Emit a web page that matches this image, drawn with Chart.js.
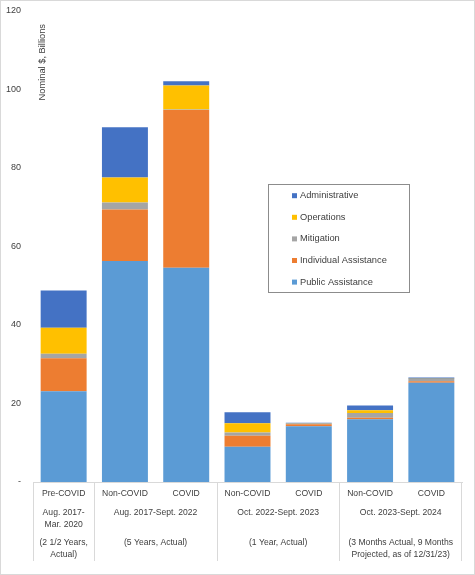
<!DOCTYPE html>
<html>
<head>
<meta charset="utf-8">
<script src="https://cdn.jsdelivr.net/npm/chart.js@4"></script>
<style>
  html, body { margin: 0; padding: 0; background: #fff; }
  #wrap { position: relative; width: 475px; height: 575px; }
</style>
</head>
<body>
<div id="wrap"><canvas id="chart"></canvas></div>
<script>
// ---- data ----
var categories = ['Pre-COVID', 'Non-COVID', 'COVID', 'Non-COVID', 'COVID', 'Non-COVID', 'COVID'];
var groupSpans = [[0, 0], [1, 2], [3, 4], [5, 6]];
var groupLabels = [['Aug. 2017-', 'Mar. 2020'], ['Aug. 2017-Sept. 2022'], ['Oct. 2022-Sept. 2023'], ['Oct. 2023-Sept. 2024']];
var groupNotes = [['(2 1/2 Years,', 'Actual)'], ['(5 Years, Actual)'], ['(1 Year, Actual)'], ['(3 Months Actual, 9 Months', 'Projected, as of 12/31/23)']];

var publicAssistance = [23.1, 56.3, 54.6, 9.0, 14.2, 16.0, 25.3];
var individualAssistance = [8.4, 13.1, 40.2, 2.8, 0.5, 0.4, 0.35];
var mitigation = [1.2, 1.8, 0.1, 0.8, 0.15, 1.2, 0.6];
var operations = [6.6, 6.4, 6.1, 2.4, 0.05, 0.7, 0.05];
var administrative = [9.5, 12.8, 1.1, 2.8, 0.2, 1.2, 0.3];

var yTicks = [0, 20, 40, 60, 80, 100, 120];
var yTitle = 'Nominal $, Billions';

var FONT = '"Liberation Sans", Arial, sans-serif';
var TXT = '#404040';

function ds(label, data, color) {
  return { label: label, data: data, backgroundColor: color, borderWidth: 0, categoryPercentage: 1, barPercentage: 0.75 };
}

// 边框 + y 轴标题 + 分组标签 + 图例
var decor = {
  id: 'decor',
  afterDraw: function(chart) {
    var ctx = chart.ctx, x = chart.scales.x, area = chart.chartArea;
    ctx.save();
    // outer border
    ctx.strokeStyle = '#d9d9d9'; ctx.lineWidth = 1;
    ctx.strokeRect(0.5, 0.5, chart.width - 1, chart.height - 1);

    // y title
    ctx.fillStyle = TXT;
    ctx.font = '9.3px ' + FONT;
    ctx.save();
    ctx.translate(area.left + 9, 24);
    ctx.rotate(-Math.PI / 2);
    ctx.textAlign = 'right'; ctx.textBaseline = 'middle';
    ctx.fillText(yTitle, 0, 0);
    ctx.restore();

    // multi-level category axis
    var half = (x.getPixelForValue(1) - x.getPixelForValue(0)) / 2;
    ctx.strokeStyle = '#d9d9d9';
    ctx.beginPath();
    groupSpans.forEach(function(s, i) {
      var l = Math.round(x.getPixelForValue(s[0]) - half) + 0.5;
      ctx.moveTo(l, area.bottom); ctx.lineTo(l, area.bottom + 79);
      if (i === groupSpans.length - 1) {
        var r = Math.round(x.getPixelForValue(s[1]) + half) - 0.5;
        ctx.moveTo(r, area.bottom); ctx.lineTo(r, area.bottom + 79);
      }
    });
    ctx.stroke();

    ctx.font = '8.6px ' + FONT;
    ctx.textAlign = 'center'; ctx.textBaseline = 'middle';
    categories.forEach(function(c, i) { ctx.fillText(c, x.getPixelForValue(i), area.bottom + 12); });
    groupSpans.forEach(function(s, i) {
      var cx = (x.getPixelForValue(s[0]) + x.getPixelForValue(s[1])) / 2;
      groupLabels[i].forEach(function(t, j) { ctx.fillText(t, cx, area.bottom + 31 + j * 12); });
      groupNotes[i].forEach(function(t, j) { ctx.fillText(t, cx, area.bottom + 61 + j * 12); });
    });

    // legend box
    var lx = 268.5, ly = 184.5, lw = 141, lh = 108;
    ctx.fillStyle = '#fff';
    ctx.fillRect(lx, ly, lw, lh);
    ctx.strokeStyle = '#8c8c8c';
    ctx.strokeRect(lx, ly, lw, lh);
    ctx.font = '9.3px ' + FONT;
    ctx.textAlign = 'left';
    var items = chart.data.datasets.slice().reverse();
    items.forEach(function(d, i) {
      var cy = 195.7 + i * 21.6;
      ctx.fillStyle = d.backgroundColor;
      ctx.fillRect(292, cy - 2.5, 5, 5);
      ctx.fillStyle = TXT;
      ctx.fillText(d.label, 300, cy);
    });
    ctx.restore();
  }
};

new Chart(document.getElementById('chart'), {
  type: 'bar',
  data: {
    labels: categories,
    datasets: [
      ds('Public Assistance', publicAssistance, '#5B9BD5'),
      ds('Individual Assistance', individualAssistance, '#ED7D31'),
      ds('Mitigation', mitigation, '#A5A5A5'),
      ds('Operations', operations, '#FFC000'),
      ds('Administrative', administrative, '#4472C4')
    ]
  },
  plugins: [decor],
  options: {
    responsive: true, maintainAspectRatio: false, animation: false,
    layout: { padding: { top: 11, right: 13, bottom: 13, left: 0 } },
    plugins: { legend: { display: false }, tooltip: { enabled: false } },
    scales: {
      x: {
        stacked: true,
        grid: { display: false, drawTicks: false },
        border: { display: true, color: '#d9d9d9' },
        ticks: { display: false },
        afterFit: function(s) { s.height = 80; s.paddingLeft = 0; s.paddingRight = 0; }
      },
      y: {
        stacked: true, min: 0, max: 120,
        afterBuildTicks: function(s) { s.ticks = yTicks.map(function(v) { return { value: v }; }); },
        grid: { display: false, drawTicks: false },
        border: { display: false },
        ticks: {
          color: TXT, padding: 12, font: { family: FONT, size: 9 },
          callback: function(v) { return v === 0 ? '-' : v; }
        },
        afterFit: function(s) { s.width = 33; s.paddingTop = 0; s.paddingBottom = 0; }
      }
    }
  }
});
</script>
</body>
</html>
